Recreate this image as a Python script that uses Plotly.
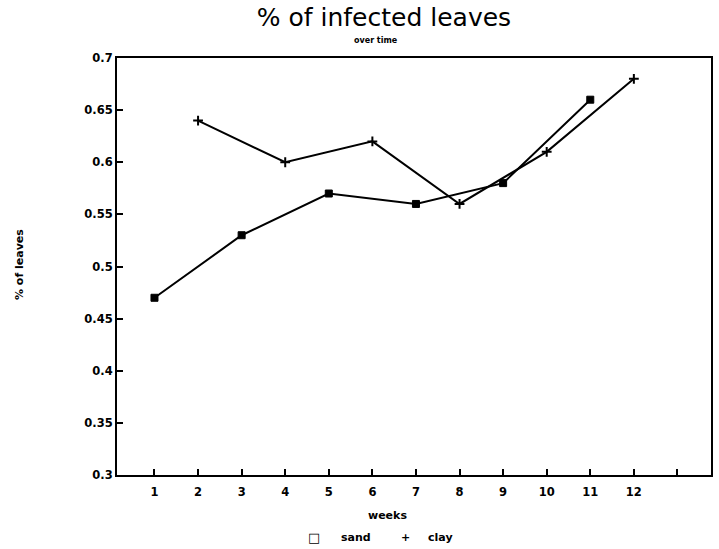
import plotly.graph_objects as go

sand_weeks = [1, 3, 5, 7, 9, 11]
sand_vals = [0.47, 0.53, 0.57, 0.56, 0.58, 0.66]
clay_weeks = [2, 4, 6, 8, 10, 12]
clay_vals = [0.64, 0.60, 0.62, 0.56, 0.61, 0.68]
x_ticks = list(range(1, 14))
x_labels = ["<b>%d</b>" % i for i in range(1, 13)] + [""]
y_ticks = [0.3, 0.35, 0.4, 0.45, 0.5, 0.55, 0.6, 0.65, 0.7]
y_labels = ["<b>%s</b>" % s for s in ["0.3", "0.35", "0.4", "0.45", "0.5", "0.55", "0.6", "0.65", "0.7"]]

fig = go.Figure()
fig.add_trace(go.Scatter(
    x=sand_weeks, y=sand_vals, mode="lines+markers", name="sand",
    line=dict(color="black", width=2),
    marker=dict(symbol="square", size=7, color="black",
                line=dict(color="black", width=1)),
))
fig.add_trace(go.Scatter(
    x=clay_weeks, y=clay_vals, mode="lines+markers", name="clay",
    line=dict(color="black", width=2),
    marker=dict(symbol="cross-thin", size=7, color="black",
                line=dict(color="black", width=2)),
))

FONT = "DejaVu Sans"
tick_font = dict(family=FONT, size=11.5, color="black")
label_font = dict(family=FONT, size=11, color="black")

def ann(text, x, y, font=label_font, **kw):
    return dict(text=text, x=x, xref="paper", y=y, yref="paper",
                xanchor="center", yanchor="middle", showarrow=False,
                font=font, **kw)

fig.update_layout(
    width=719, height=549,
    margin=dict(l=117, r=8, t=58, b=74),
    paper_bgcolor="white", plot_bgcolor="white",
    showlegend=False,
    title=dict(text="% of infected leaves", x=0.534, xanchor="center",
               y=0.968, yanchor="middle",
               font=dict(family=FONT, size=25, color="black")),
    xaxis=dict(range=[0.14, 13.77], tickmode="array", tickvals=x_ticks,
               ticktext=x_labels, ticks="inside", ticklen=6, tickwidth=2,
               tickcolor="black", showgrid=False, zeroline=False,
               showline=True, linecolor="black", linewidth=2, mirror=True,
               tickfont=tick_font, ticklabelstandoff=5, automargin=False),
    yaxis=dict(range=[0.3, 0.7], tickmode="array", tickvals=y_ticks,
               ticktext=y_labels, ticks="inside", ticklen=6, tickwidth=2,
               tickcolor="black", showgrid=False, zeroline=False,
               showline=True, linecolor="black", linewidth=2, mirror=True,
               tickfont=tick_font, automargin=False),
    annotations=[
        ann("<b>over time</b>", 0.436, 1.041, font=dict(family=FONT, size=8, color="black")),
        ann("<b>% of leaves</b>", -0.163, 0.504, textangle=-90),
        ann("<b>weeks</b>", 0.456, -0.096),
        ann("<b>□</b>", 0.332, -0.149, font=dict(family=FONT, size=13, color="black")),
        ann("<b>sand</b>", 0.402, -0.149),
        ann("<b>+</b>", 0.485, -0.149),
        ann("<b>clay</b>", 0.545, -0.149),
    ],
)
fig.write_html("out.html", config={"displayModeBar": False},
               post_script="document.body.style.margin='0';")
